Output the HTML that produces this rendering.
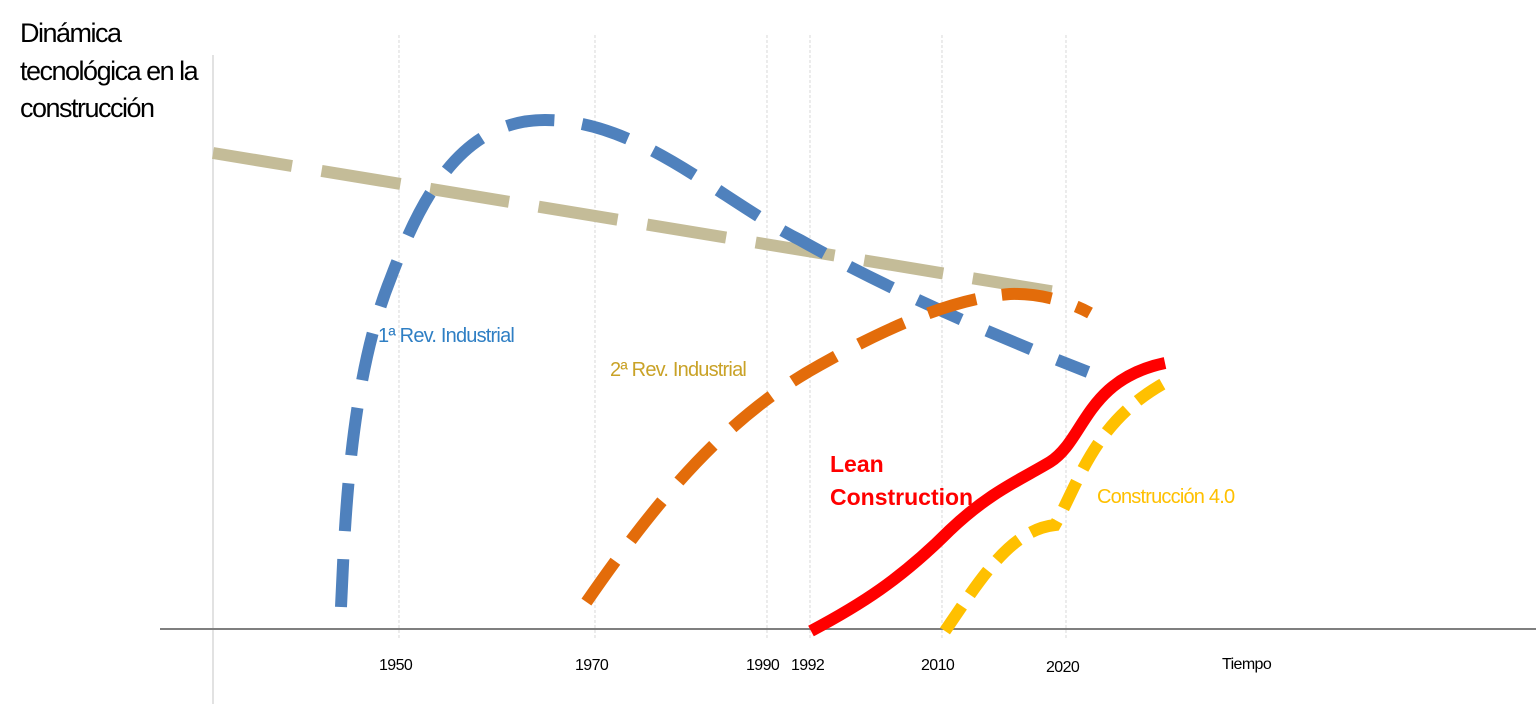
<!DOCTYPE html>
<html><head><meta charset="utf-8"><style>
html,body{margin:0;padding:0;background:#fff;}
svg{display:block;font-family:"Liberation Sans",sans-serif;}
</style></head><body>
<svg width="1536" height="704" viewBox="0 0 1536 704" xmlns="http://www.w3.org/2000/svg">
<rect width="1536" height="704" fill="#fff"/>
<line x1="213" y1="55" x2="213" y2="704" stroke="#d9d9d9" stroke-width="1.5"/>
<g stroke="#dedede" stroke-width="1.2" stroke-dasharray="3 2">
<line x1="399" y1="35" x2="399" y2="640"/>
<line x1="595" y1="35" x2="595" y2="640"/>
<line x1="767" y1="35" x2="767" y2="640"/>
<line x1="810" y1="35" x2="810" y2="640"/>
<line x1="942" y1="35" x2="942" y2="640"/>
<line x1="1066" y1="35" x2="1066" y2="640"/>
</g>
<line x1="160" y1="629" x2="1536" y2="629" stroke="#7f7f7f" stroke-width="2"/>
<g fill="none" stroke-width="12">
<path d="M213,153 L1062,293" stroke="#c4bc98" stroke-dasharray="80 30"/>
<path d="M341,607 C345,520 350,380 390,280 C420,200 460,120 545,120 C640,120 720,200 800,240 C880,285 980,330 1088,372" stroke="#4f81bd" stroke-dasharray="48 28"/>
<path d="M583,607 C650,510 720,420 820,365 C900,320 960,298 1010,294 C1040,293 1070,302 1090,313" stroke="#e36c0a" stroke-dasharray="50 26" stroke-dashoffset="-6"/>
<path d="M811,631 C860,605 900,580 950,530 C990,492 1020,480 1050,462 C1085,440 1085,380 1165,363" stroke="#ff0000"/>
<path d="M945,631 C980,580 1010,530 1055,525 C1080,480 1095,420 1168,381" stroke="#ffc000" stroke-dasharray="30 14"/>
</g>
<g font-size="27" fill="#000" letter-spacing="-1.5">
<text x="20" y="42">Dinámica</text>
<text x="20" y="80">tecnológica en la</text>
<text x="20" y="117">construcción</text>
</g>
<text x="378" y="342" font-size="20" fill="#2f7fc4" letter-spacing="-0.8">1ª Rev. Industrial</text>
<text x="610" y="376" font-size="20" fill="#c9a227" letter-spacing="-0.8">2ª Rev. Industrial</text>
<text x="830" y="472" font-size="23" font-weight="bold" fill="#ff0000">Lean</text>
<text x="830" y="505" font-size="23" font-weight="bold" fill="#ff0000">Construction</text>
<text x="1097" y="503" font-size="20" fill="#ffc000" letter-spacing="-0.8">Construcción 4.0</text>
<g font-size="16" fill="#000" letter-spacing="-0.6">
<text x="379" y="670">1950</text>
<text x="575" y="670">1970</text>
<text x="746" y="670">1990</text>
<text x="791" y="670">1992</text>
<text x="921" y="670">2010</text>
<text x="1046" y="672">2020</text>
<text x="1222" y="669">Tiempo</text>
</g>
</svg>
</body></html>
